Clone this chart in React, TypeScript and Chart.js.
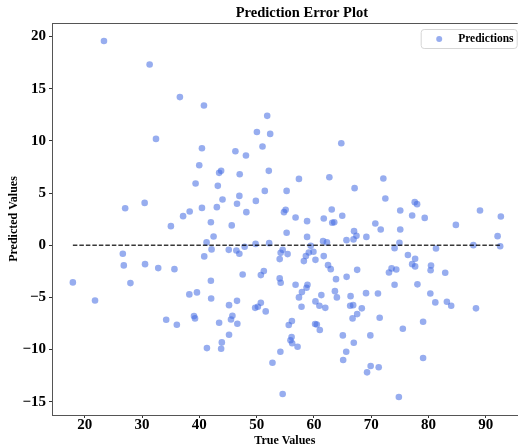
import React, { useEffect, useRef } from 'react';
import { Chart, registerables } from 'chart.js';

Chart.register(...registerables);

const chartTitle = 'Prediction Error Plot';
const xLabel = 'True Values';
const yLabel = 'Predicted Values';
const seriesLabel = 'Predictions';

const xTicks = [20, 30, 40, 50, 60, 70, 80, 90];
const yTicks = [-15, -10, -5, 0, 5, 10, 15, 20];

const trueValues = [
  23.35, 31.32, 36.6, 32.43, 40.8, 51.84, 50.04, 52.36, 40.45, 46.29, 51.02, 48.13, 64.77,
  27.05, 30.45, 35.03, 26.64, 26.81, 30.52, 32.82, 35.65, 17.92, 27.97,
  39.98, 43.45, 43.8, 47.04, 52.12, 39.34, 43.22, 51.42, 55.23, 46.98, 44.04, 46.57, 49.86,
  40.45, 43.05, 38.31, 37.16, 48.2, 54.77, 55.06, 42.01, 45.65, 55.23, 42.48, 41.26, 49.81,
  52.18, 42.13, 47.9, 45.13, 46.46, 46.98, 54.54, 54.19, 55.4, 40.85, 54.02, 51.25, 50.73,
  47.56, 42.01, 54.02, 54.19,
  57.38, 62.69, 72.11, 67.09, 72.46, 63.1, 75.06, 56.79, 58.8, 61.71, 64.94, 63.19, 63.54,
  70.71, 71.65, 75.06, 67.0, 67.42, 66.9, 69.15, 65.68, 58.8, 61.59, 62.27, 74.92, 74.07,
  59.44, 76.4, 59.11, 59.91, 58.59, 58.24, 60.26, 61.71, 62.46, 62.93, 67.54, 73.55, 74.37,
  73.09, 63.85, 65.7, 56.79, 58.87, 74.07,
  77.59, 78.0, 88.98, 77.14, 79.33, 92.62, 84.77, 92.05, 87.82, 92.5, 81.3, 77.66, 77.14,
  77.66, 80.43, 80.36, 82.91, 78.06,
  21.79, 34.21, 36.07,
  38.25, 39.58, 42.06, 45.18, 46.57, 49.74, 50.21, 50.73, 51.58, 39.06, 39.24, 43.45, 45.77,
  45.52, 46.63, 45.18, 43.92, 43.8, 41.32, 52.76, 54.14, 54.54, 56.15, 55.6,
  58.7, 57.9, 57.38, 57.83, 60.26, 61.29, 60.95, 61.98, 63.66, 64.0, 66.39, 66.32, 66.84,
  68.35, 69.09, 71.17, 67.54, 66.74, 71.47, 60.2, 60.5, 61.02, 56.1, 55.9, 56.2, 57.14,
  65.04, 66.95, 69.84, 65.63, 65.1, 69.9, 69.27, 71.3, 75.51, 74.82,
  80.31, 81.18, 83.2, 83.95, 88.28, 79.05, 79.05,
];

const predictedValues = [
  19.58, 17.32, 14.2, 10.19, 13.39, 12.4, 10.86, 10.67, 9.3, 9.01, 9.46, 8.6, 9.78,
  3.55, 4.06, 1.83, -0.82, -1.93, -1.81, -2.19, -2.29, -3.56, -3.63,
  7.67, 6.94, 7.13, 6.81, 7.13, 5.92, 5.69, 5.21, 5.21, 4.73, 4.39, 3.97, 4.25,
  3.58, 3.65, 3.24, 2.79, 3.17, 3.17, 3.39, 2.21, 1.9, 1.19, 0.84, 0.27, 0.13,
  0.2, -0.4, -0.15, -0.44, -0.5, -0.82, -0.44, -0.73, -0.85, -1.07, -1.33, -2.48, -2.86,
  -2.8, -3.41, -3.18, -3.6,
  6.36, 6.52, 6.4, 5.47, 4.48, 3.43, 3.33, 2.66, 2.31, 2.57, 2.82, 2.15, 2.21,
  2.09, 1.51, 1.51, 1.35, 0.9, 0.56, 0.8, 0.49, 0.8, 0.39, 0.27, 0.23, -0.28,
  -0.06, -0.93, -0.69, -0.63, -1.04, -1.52, -1.4, -1.04, -1.91, -2.29, -2.36, -2.22, -2.32,
  -2.61, -3.25, -3.03, -3.79, -3.79, -3.79,
  4.13, 3.94, 3.33, 2.85, 2.62, 2.76, 1.95, 0.87, 0.01, -0.09, -0.31, -1.3, -1.81,
  -2.03, -1.94, -2.39, -2.64, -3.75,
  -5.29, -7.14, -7.62,
  -4.71, -4.52, -5.1, -5.74, -5.33, -6.0, -5.9, -5.52, -6.34, -6.79, -7.01, -7.43, -6.76,
  -7.11, -7.53, -8.58, -9.31, -9.92, -9.86, -11.26, -10.21, -14.26, -7.27, -7.65,
  -4.08, -4.49, -5.0, -5.9, -5.38, -4.78, -5.8, -6.0, -4.4, -5.0, -4.88, -5.8, -5.74,
  -6.05, -4.59, -4.62, -6.6, -7.01, -6.95, -7.55, -7.6, -8.13, -8.8, -9.1, -9.4, -9.73,
  -8.64, -9.35, -8.64, -10.21, -11.0, -11.58, -12.18, -11.7, -8.0, -14.55,
  -4.62, -5.48, -5.42, -5.8, -6.05, -7.33, -10.81,
];

const FONT = "'Liberation Serif', 'Times New Roman', serif";
const SPINE = '#555555';
const POINT_COLOR = 'rgba(65, 105, 225, 0.55)';

const fmt = (v: number | string) => {
  const n = Number(v);
  return n < 0 ? '\u2212' + Math.abs(n) : String(n);
};

export default function App() {
  const ref = useRef<HTMLCanvasElement | null>(null);

  useEffect(() => {
    const canvas = ref.current;
    if (!canvas) return;

    const points = trueValues.map((x, i) => ({ x, y: predictedValues[i] }));
    const lineMin = Math.min(...trueValues);
    const lineMax = Math.max(...trueValues);

    const decorPlugin = {
      id: 'decor',
      afterDraw(chart: any) {
        const { ctx, chartArea: a } = chart;
        ctx.save();
        // top spine
        ctx.strokeStyle = SPINE;
        ctx.lineWidth = 1;
        ctx.beginPath();
        ctx.moveTo(a.left, a.top + 0.5);
        ctx.lineTo(a.right, a.top + 0.5);
        ctx.stroke();

        // title
        ctx.fillStyle = '#000';
        ctx.font = `bold 14.5px ${FONT}`;
        ctx.textAlign = 'center';
        ctx.textBaseline = 'middle';
        ctx.fillText(chartTitle, (a.left + a.right) / 2 + 17, a.top - 10);

        // legend
        const bw = 96;
        const bh = 19;
        const bx = a.right - 0.5 - bw;
        const by = a.top + 6.5;
        ctx.beginPath();
        ctx.roundRect(bx, by, bw, bh, 3);
        ctx.fillStyle = 'rgba(255,255,255,0.85)';
        ctx.fill();
        ctx.strokeStyle = '#d6d6d6';
        ctx.lineWidth = 1;
        ctx.stroke();
        ctx.beginPath();
        ctx.arc(bx + 18, by + bh / 2, 3, 0, Math.PI * 2);
        ctx.fillStyle = POINT_COLOR;
        ctx.fill();
        ctx.fillStyle = '#000';
        ctx.font = `bold 11.5px ${FONT}`;
        ctx.textAlign = 'left';
        ctx.textBaseline = 'middle';
        ctx.fillText(seriesLabel, bx + 37, by + bh / 2 + 0.5);
        ctx.restore();
      },
    };

    const chart = new Chart(canvas, {
      type: 'scatter',
      data: {
        datasets: [
          {
            type: 'line',
            label: 'zero',
            data: [
              { x: lineMin, y: 0 },
              { x: lineMax, y: 0 },
            ],
            borderColor: 'rgba(0,0,0,0.78)',
            borderWidth: 1.3,
            borderDash: [4.5, 2],
            pointRadius: 0,
            fill: false,
          } as any,
          {
            label: seriesLabel,
            data: points,
            backgroundColor: POINT_COLOR,
            borderWidth: 0,
            pointRadius: 3.3,
            pointHoverRadius: 3.3,
          },
        ],
      },
      options: {
        responsive: false,
        animation: false,
        devicePixelRatio: 1,
        layout: { padding: { top: 23, right: 0, bottom: 0, left: 0 } },
        plugins: {
          legend: { display: false },
          tooltip: { enabled: false },
          title: { display: false },
        },
        scales: {
          x: {
            type: 'linear',
            min: 14.28,
            max: 95.56,
            afterBuildTicks: (s: any) => {
              s.ticks = xTicks.map((v) => ({ value: v }));
            },
            afterFit: (s: any) => {
              s.height = 32;
            },
            grid: {
              drawOnChartArea: false,
              drawTicks: true,
              tickLength: 3,
              tickColor: '#333',
            },
            border: { display: true, color: SPINE, width: 1 },
            ticks: {
              color: '#000',
              padding: 0,
              maxRotation: 0,
              autoSkip: false,
              font: { family: FONT, size: 15, weight: 'bold', lineHeight: 1 },
              callback: (v: any) => fmt(v),
            },
            title: {
              display: true,
              text: xLabel,
              color: '#000',
              font: { family: FONT, size: 12, weight: 'bold', lineHeight: 1 },
              padding: { top: 0, bottom: 0 },
            },
          },
          y: {
            type: 'linear',
            min: -16.27,
            max: 21.3,
            afterBuildTicks: (s: any) => {
              s.ticks = yTicks.map((v) => ({ value: v }));
            },
            afterFit: (s: any) => {
              s.width = 52;
            },
            grid: {
              drawOnChartArea: false,
              drawTicks: true,
              tickLength: 3,
              tickColor: '#333',
            },
            border: { display: true, color: SPINE, width: 1 },
            ticks: {
              color: '#000',
              padding: 3,
              autoSkip: false,
              font: { family: FONT, size: 15, weight: 'bold', lineHeight: 1 },
              callback: (v: any) => fmt(v),
            },
            title: {
              display: true,
              text: yLabel,
              color: '#000',
              font: { family: FONT, size: 12, weight: 'bold', lineHeight: 1 },
              padding: { top: 8, bottom: 0 },
            },
          },
        },
      },
      plugins: [decorPlugin],
    });

    return () => chart.destroy();
  }, []);

  return (
    <div style={{ position: 'fixed', left: 0, top: 0, width: 521, height: 447, background: '#fff' }}>
      <canvas ref={ref} width={521} height={447} style={{ width: 521, height: 447, display: 'block' }} />
    </div>
  );
}
